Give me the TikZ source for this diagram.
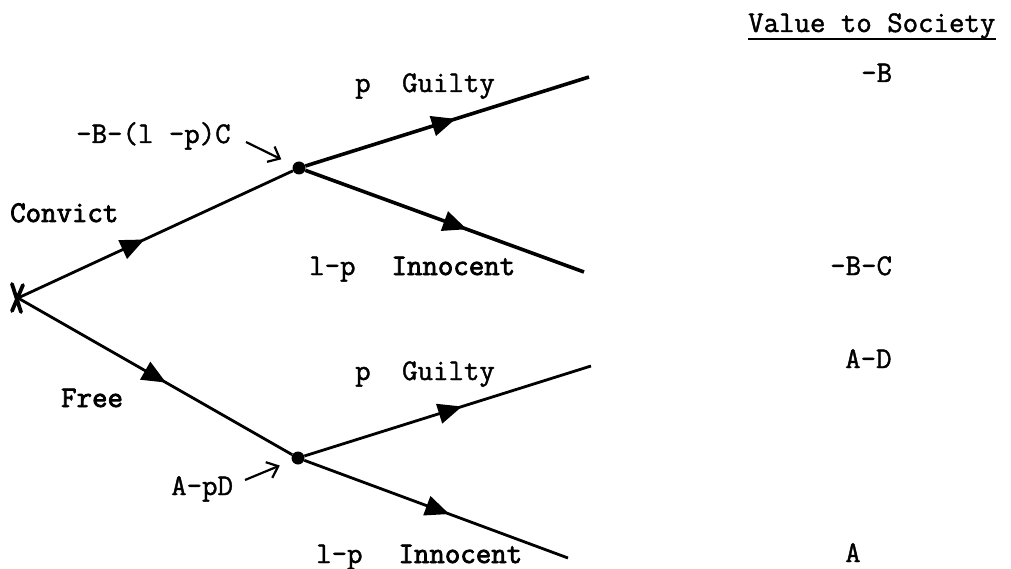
\documentclass[tikz,border=0pt]{standalone}
\usepackage{fontspec}
\newfontfamily\twfont{Latin Modern Mono}[FakeBold=1.4]
\newfontfamily\twbfont{Latin Modern Mono}[FakeBold=2.6]
\usetikzlibrary{arrows.meta,decorations.markings}
\tikzset{
  branch/.style={line width=2.8pt, postaction={decorate},
    decoration={markings, mark=at position #1 with {\arrow{Triangle[length=24pt,width=20pt]}}}},
  thickbranch/.style={branch=#1, line width=3.6pt},
  dotnode/.style={circle, fill=black, inner sep=0pt, minimum size=13pt},
  lbl/.style={anchor=base west, inner sep=0pt, font=\fontsize{30}{34}\twfont},
  blbl/.style={lbl, font=\fontsize{30}{34}\twbfont},
  annot/.style={line width=2.2pt, -{Straight Barb[length=10pt,width=17pt,line width=2.2pt]}, shorten >=13pt},
  crossmark/.style={line width=3.8pt, line cap=round},
}
\begin{document}
\begin{tikzpicture}[x=1pt, y=-1pt]
\path[use as bounding box] (0,0) rectangle (1011,569);

% tree points
\coordinate (root) at (18,298);
\node[dotnode] (up) at (299,168) {};
\node[dotnode] (lo) at (298,458) {};
\coordinate (ug) at (589,77);
\coordinate (ui) at (584,272);
\coordinate (lg) at (591,366);
\coordinate (li) at (568,558);

% root cross
\draw[crossmark] (12,284) -- (21,312) (23,285) -- (12,311);

% branches
\draw[branch=0.46] (root) -- (up);
\draw[branch=0.54] (root) -- (lo);
\draw[thickbranch=0.53] (up) -- (ug);
\draw[thickbranch=0.58] (up) -- (ui);
\draw[branch=0.55] (lo) -- (lg);
\draw[branch=0.55] (lo) -- (li);

% labels
\node[blbl] (convict) at (10,222) {Convict};
\node[blbl] (free) at (61,407) {Free};
\node[lbl] (ev1) at (76,143) {-B-(l -p)C};
\node[lbl] (ev2) at (171,495) {A-pD};
\coordinate (ev1s) at (246,142);
\coordinate (ev2s) at (245,480);
\draw[annot] (ev1s) -- (up);
\draw[annot] (ev2s) -- (lo);

\node[lbl] (pg1) at (355,92) {p\hspace{1.05em}Guilty};
\node[lbl] (pi1) at (309,275) {l-p\hspace{1.2em}{\twbfont Innocent}};
\node[lbl] (pg2) at (355,380) {p\hspace{1.05em}Guilty};
\node[lbl] (pi2) at (316,563) {l-p\hspace{1.2em}{\twbfont Innocent}};

% values
\node[lbl] (vts) at (748,32) {Value to Society};
\draw[line width=2pt] ([yshift=-7pt]vts.base west) -- ([yshift=-7pt]vts.base east);
\node[lbl] (v1) at (861,82) {-B};
\node[lbl] (v2) at (830,275) {-B-C};
\node[lbl] (v3) at (845,368) {A-D};
\node[lbl] (v4) at (845,562) {A};
\end{tikzpicture}
\end{document}
